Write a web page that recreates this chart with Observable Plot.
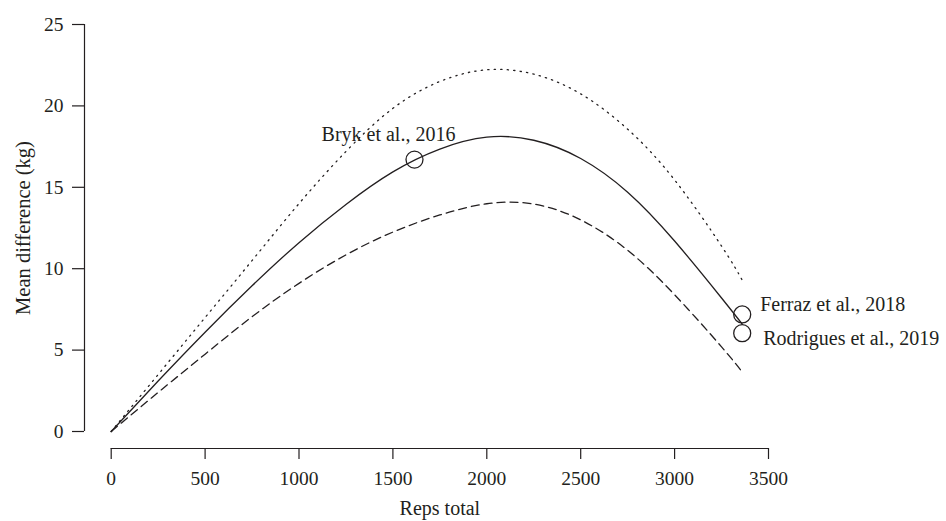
<!DOCTYPE html>
<html>
<head>
<meta charset="utf-8">
<script src="https://cdn.jsdelivr.net/npm/d3@7"></script>
<script src="https://cdn.jsdelivr.net/npm/@observablehq/plot@0.6"></script>
<style>
  html, body { margin: 0; padding: 0; background: #ffffff; }
</style>
</head>
<body>
<div id="chart"></div>
<script>
// ---- data ----
const xTicks = [0, 500, 1000, 1500, 2000, 2500, 3000, 3500];
const yTicks = [0, 5, 10, 15, 20, 25];

// reps at which the curves were read
const repsX = [0, 250, 500, 750, 1000, 1250, 1500, 1750, 2000, 2250, 2500, 2750, 3000, 3250, 3360];

// pooled estimate (solid)
const estY = [0, 3.1, 6.1, 8.95, 11.6, 13.95, 15.95, 17.35, 18.08, 17.89, 16.77, 14.7, 11.7, 8.2, 6.6];

// upper bound (dotted)
const upY = [0, 3.5, 7.0, 10.5, 14.0, 17.2, 19.85, 21.5, 22.22, 21.95, 20.74, 18.57, 15.45, 11.39, 9.3];

// lower bound (dashed)
const loY = [0, 2.4, 4.75, 7.05, 9.1, 10.85, 12.25, 13.3, 13.99, 13.97, 13.0, 11.13, 8.4, 5.2, 3.65];

// studies
const studyNames = ["Bryk et al., 2016", "Ferraz et al., 2018", "Rodrigues et al., 2019"];
const studyReps = [1615, 3360, 3360];
const studyDiff = [16.7, 7.19, 6.04];

// ---- build ----
const ink = "#231f20";
const font = "'Liberation Serif', 'DejaVu Serif', serif";
const rows = (xs, ys) => xs.map((x, i) => ({x, y: ys[i]}));
const studies = studyNames.map((name, i) => ({name, x: studyReps[i], y: studyDiff[i]}));
const fmt = d3.format("d");

const chart = Plot.plot({
  width: 946,
  height: 521,
  marginLeft: 110.7,
  marginRight: 178,
  marginTop: 24,
  marginBottom: 90,
  style: {fontFamily: font, background: "#ffffff", color: ink, overflow: "visible"},
  x: {domain: [0, 3500]},
  y: {domain: [0, 25]},
  marks: [
    // detached axes (R base style)
    Plot.ruleX([0], {y1: 0, y2: 25, dx: -26.7, stroke: ink, strokeWidth: 1.2}),
    Plot.axisY(yTicks, {tickSize: 12, tickPadding: 9, dx: -26.7, fontSize: 19.5, label: null, tickFormat: fmt, stroke: ink, fill: ink, strokeWidth: 1.2}),
    Plot.ruleY([0], {x1: 0, x2: 3500, dy: 17, stroke: ink, strokeWidth: 1.2}),
    Plot.axisX(xTicks, {tickSize: 11, tickPadding: 12, dy: 17, fontSize: 19.5, label: null, tickFormat: fmt, stroke: ink, fill: ink, strokeWidth: 1.2}),

    // curves
    Plot.line(rows(repsX, upY), {x: "x", y: "y", curve: "natural", stroke: ink, strokeWidth: 1.3, strokeDasharray: "1.3,5.2"}),
    Plot.line(rows(repsX, loY), {x: "x", y: "y", curve: "natural", stroke: ink, strokeWidth: 1.3, strokeDasharray: "8,5"}),
    Plot.line(rows(repsX, estY), {x: "x", y: "y", curve: "natural", stroke: ink, strokeWidth: 1.3}),

    // studies
    Plot.dot(studies, {x: "x", y: "y", r: 8.5, stroke: ink, strokeWidth: 1.3, fill: "none"}),
    Plot.text(studies.slice(0, 1), {x: "x", y: "y", text: "name", textAnchor: "middle", dx: -26, dy: -25, fontSize: 20, fill: ink}),
    Plot.text(studies.slice(1, 2), {x: "x", y: "y", text: "name", textAnchor: "start", dx: 18, dy: -10, fontSize: 20, fill: ink}),
    Plot.text(studies.slice(2, 3), {x: "x", y: "y", text: "name", textAnchor: "start", dx: 21, dy: 5, fontSize: 20, fill: ink}),

    // axis titles
    Plot.text(["Reps total"], {frameAnchor: "bottom", textAnchor: "middle", lineAnchor: "middle", dy: 77, fontSize: 20, fill: ink}),
    Plot.text(["Mean difference (kg)"], {frameAnchor: "left", textAnchor: "middle", lineAnchor: "middle", rotate: -90, dx: -87.5, fontSize: 20.5, fill: ink})
  ]
});

document.getElementById("chart").appendChild(chart);
</script>
</body>
</html>
